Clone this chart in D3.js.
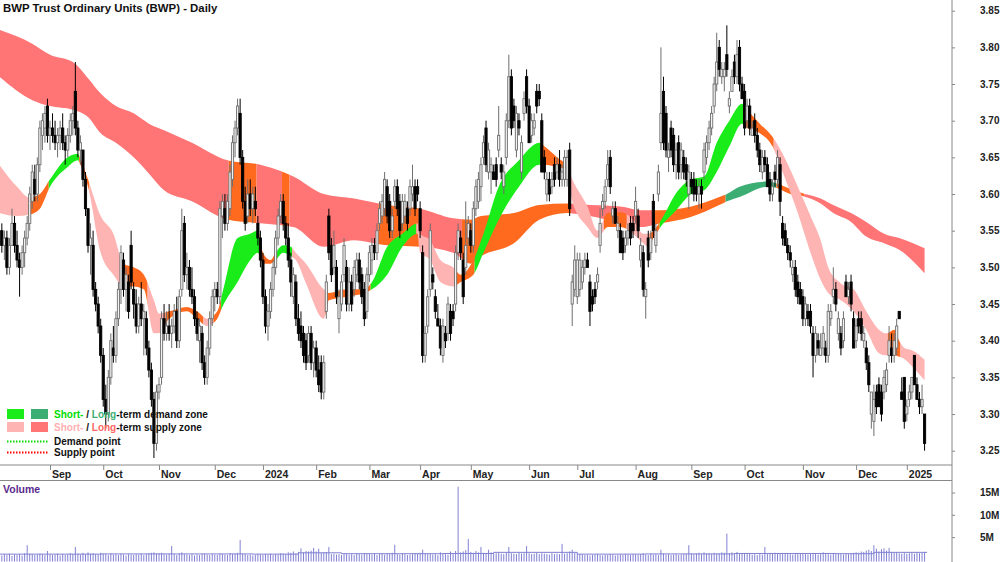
<!DOCTYPE html>
<html>
<head>
<meta charset="utf-8">
<script src="https://cdn.jsdelivr.net/npm/d3@7"></script>
<style>
  body { margin: 0; background: #fff; }
  svg { display: block; font-family: "Liberation Sans", Arial, sans-serif; }
</style>
</head>
<body>
<svg width="1000" height="562"></svg>
<script>
// daily bars, 4 Aug 2023 .. 13 Jan 2025 (trading days)
var opens = [3.53,3.55,3.53,3.54,3.50,3.53,3.56,3.53,3.51,3.50,3.52,3.54,3.56,3.59,3.62,3.60,3.64,3.68,3.69,3.72,
  3.68,3.69,3.68,3.67,3.68,3.69,3.67,3.66,3.68,3.70,3.74,3.69,3.66,3.66,3.62,3.58,3.53,3.53,3.47,3.45,3.42,
  3.38,3.32,3.30,3.35,3.39,3.38,3.43,3.47,3.51,3.47,3.48,3.53,3.47,3.45,3.42,3.45,3.43,3.43,3.39,3.36,3.32,3.26,
  3.33,3.35,3.43,3.41,3.42,3.41,3.42,3.44,3.40,3.47,3.56,3.49,3.50,3.47,3.46,3.43,3.40,3.41,3.37,3.35,3.39,3.43,
  3.46,3.47,3.46,3.57,3.58,3.56,3.58,3.62,3.67,3.69,3.71,3.65,3.59,3.57,3.60,3.58,3.59,3.56,3.54,
  3.51,3.46,3.42,3.44,3.47,3.50,3.54,3.57,3.59,3.56,3.54,3.51,3.46,3.48,3.43,3.42,3.41,3.40,3.38,3.41,3.37,
  3.39,3.36,3.37,3.33,3.44,3.57,3.53,3.50,3.50,3.43,3.45,3.49,3.50,3.45,3.48,3.47,3.49,3.51,3.49,3.47,3.44,
  3.49,3.51,3.53,3.52,3.56,3.57,3.58,3.61,3.59,3.55,3.59,3.61,3.59,3.56,3.57,3.58,3.58,3.60,3.61,3.61,
  3.58,3.52,3.38,3.42,3.47,3.49,3.46,3.43,3.42,3.38,3.41,3.41,3.44,3.44,3.45,3.52,3.54,3.51,3.50,3.54,
  3.55,3.53,3.58,3.59,3.61,3.65,3.69,3.63,3.63,3.63,3.64,3.66,3.64,3.61,3.65,3.70,3.76,3.72,3.66,3.70,3.63,3.71,3.76,
  3.72,3.68,3.69,3.74,3.74,3.70,3.65,3.60,3.62,3.61,3.64,3.63,3.64,3.62,3.62,3.62,3.66,3.45,3.47,
  3.46,3.47,3.48,3.50,3.51,3.48,3.46,3.47,3.48,3.53,3.58,3.59,3.62,3.65,3.57,3.58,3.55,3.55,3.54,3.53,3.54,3.56,3.56,
  3.57,3.57,3.51,3.52,3.46,3.54,3.52,3.59,3.53,3.60,3.67,3.74,3.71,3.65,3.69,3.68,3.64,3.67,3.64,3.65,3.64,3.60,
  3.62,3.62,3.61,3.60,3.61,3.63,3.65,3.67,3.69,3.72,3.75,3.80,3.76,3.76,3.79,3.72,3.74,3.78,3.76,3.80,3.75,
  3.74,3.70,3.72,3.68,3.70,3.68,3.66,3.63,3.65,3.64,3.62,3.60,3.63,3.62,3.64,3.56,3.55,3.53,3.52,3.49,3.50,3.48,3.47,
  3.46,3.43,3.44,3.44,3.41,3.38,3.40,3.38,3.39,3.39,3.38,3.43,3.46,3.47,3.41,3.41,3.40,3.48,3.46,3.48,3.43,
  3.40,3.43,3.43,3.40,3.39,3.37,3.30,3.29,3.33,3.34,3.33,3.33,3.34,3.38,3.39,3.38,3.39,3.44,3.33,3.35,
  3.30,3.32,3.33,3.38,3.34,3.32,3.31,3.30];
var highs = [3.56,3.56,3.55,3.55,3.54,3.58,3.57,3.55,3.52,3.53,3.55,3.57,3.61,3.64,3.64,3.65,3.70,3.71,3.72,3.73,
  3.70,3.71,3.70,3.69,3.70,3.71,3.68,3.69,3.71,3.72,3.78,3.70,3.68,3.66,3.63,3.58,3.56,3.55,3.48,3.46,3.43,
  3.39,3.34,3.36,3.41,3.42,3.44,3.48,3.53,3.52,3.50,3.49,3.55,3.48,3.47,3.46,3.48,3.45,3.44,3.40,3.37,3.33,3.34,
  3.35,3.44,3.45,3.44,3.45,3.43,3.45,3.46,3.47,3.58,3.57,3.52,3.51,3.50,3.47,3.44,3.43,3.42,3.38,3.40,3.44,3.47,
  3.48,3.48,3.59,3.60,3.60,3.60,3.64,3.68,3.70,3.73,3.73,3.66,3.61,3.62,3.62,3.61,3.61,3.57,3.55,
  3.52,3.47,3.45,3.48,3.51,3.55,3.58,3.60,3.60,3.57,3.56,3.52,3.50,3.49,3.45,3.44,3.42,3.41,3.42,3.42,3.40,
  3.40,3.38,3.38,3.38,3.49,3.58,3.54,3.55,3.51,3.47,3.49,3.54,3.51,3.50,3.49,3.51,3.52,3.52,3.50,3.48,3.50,
  3.53,3.54,3.54,3.56,3.59,3.60,3.63,3.62,3.60,3.58,3.62,3.62,3.60,3.60,3.60,3.59,3.62,3.64,3.62,3.62,
  3.59,3.53,3.42,3.47,3.56,3.50,3.47,3.45,3.43,3.43,3.42,3.46,3.45,3.45,3.53,3.56,3.55,3.52,3.59,3.57,
  3.56,3.59,3.62,3.63,3.65,3.68,3.70,3.67,3.65,3.64,3.65,3.72,3.65,3.64,3.71,3.79,3.77,3.73,3.72,3.71,3.68,3.74,3.77,
  3.73,3.71,3.71,3.75,3.75,3.71,3.66,3.63,3.63,3.63,3.65,3.65,3.66,3.64,3.66,3.66,3.67,3.49,3.53,
  3.52,3.52,3.51,3.52,3.52,3.49,3.47,3.48,3.50,3.58,3.60,3.62,3.66,3.66,3.59,3.59,3.57,3.56,3.55,3.55,3.56,3.57,3.57,
  3.61,3.58,3.54,3.53,3.48,3.55,3.55,3.60,3.56,3.64,3.80,3.76,3.72,3.67,3.70,3.69,3.67,3.68,3.67,3.66,3.65,3.64,
  3.63,3.63,3.62,3.62,3.62,3.67,3.68,3.70,3.72,3.76,3.82,3.81,3.78,3.78,3.83,3.74,3.77,3.79,3.81,3.81,3.76,
  3.75,3.73,3.73,3.70,3.71,3.69,3.67,3.66,3.66,3.65,3.63,3.62,3.64,3.66,3.65,3.57,3.56,3.54,3.53,3.51,3.51,3.49,3.48,
  3.47,3.46,3.45,3.45,3.42,3.42,3.41,3.41,3.42,3.40,3.45,3.45,3.50,3.48,3.44,3.42,3.44,3.49,3.48,3.49,3.44,
  3.43,3.44,3.44,3.42,3.40,3.38,3.33,3.34,3.34,3.35,3.34,3.36,3.37,3.42,3.41,3.41,3.43,3.44,3.35,3.35,
  3.32,3.34,3.35,3.38,3.35,3.33,3.34,3.30];
var lows = [3.52,3.52,3.51,3.49,3.49,3.53,3.52,3.50,3.46,3.49,3.50,3.53,3.55,3.58,3.59,3.59,3.63,3.66,3.67,3.67,
  3.66,3.67,3.66,3.65,3.66,3.66,3.64,3.65,3.67,3.68,3.68,3.65,3.64,3.61,3.57,3.52,3.49,3.46,3.44,3.41,3.37,
  3.31,3.28,3.29,3.34,3.37,3.37,3.42,3.45,3.46,3.44,3.43,3.47,3.43,3.41,3.41,3.42,3.38,3.38,3.35,3.31,3.24,3.25,
  3.32,3.34,3.40,3.40,3.40,3.39,3.41,3.39,3.39,3.46,3.48,3.47,3.46,3.45,3.42,3.40,3.37,3.36,3.34,3.34,3.38,3.42,
  3.44,3.45,3.45,3.54,3.55,3.55,3.57,3.61,3.65,3.68,3.64,3.58,3.55,3.56,3.57,3.56,3.57,3.53,3.50,
  3.45,3.41,3.40,3.43,3.46,3.49,3.53,3.56,3.55,3.53,3.50,3.46,3.45,3.42,3.40,3.39,3.37,3.36,3.37,3.36,3.35,
  3.35,3.33,3.32,3.32,3.43,3.51,3.48,3.49,3.45,3.41,3.44,3.48,3.44,3.44,3.44,3.46,3.48,3.47,3.45,3.42,3.43,
  3.48,3.49,3.51,3.51,3.55,3.56,3.57,3.56,3.54,3.54,3.58,3.57,3.54,3.55,3.56,3.55,3.57,3.59,3.57,3.59,
  3.54,3.37,3.37,3.41,3.46,3.47,3.43,3.42,3.38,3.37,3.39,3.40,3.40,3.42,3.44,3.51,3.51,3.45,3.49,3.53,
  3.52,3.52,3.57,3.58,3.59,3.64,3.63,3.62,3.60,3.62,3.61,3.65,3.62,3.60,3.64,3.69,3.68,3.69,3.65,3.68,3.62,3.70,3.71,
  3.67,3.67,3.68,3.71,3.72,3.63,3.62,3.59,3.59,3.60,3.61,3.62,3.61,3.61,3.61,3.61,3.57,3.42,3.46,
  3.45,3.46,3.47,3.49,3.50,3.42,3.44,3.45,3.47,3.52,3.57,3.58,3.61,3.60,3.56,3.56,3.54,3.52,3.51,3.52,3.53,3.53,3.54,
  3.56,3.54,3.50,3.46,3.43,3.50,3.51,3.54,3.52,3.59,3.66,3.66,3.65,3.63,3.65,3.63,3.62,3.62,3.62,3.62,3.61,3.58,
  3.60,3.59,3.59,3.58,3.58,3.62,3.64,3.66,3.68,3.71,3.74,3.76,3.75,3.74,3.76,3.71,3.74,3.75,3.75,3.74,3.73,
  3.68,3.69,3.68,3.68,3.67,3.65,3.63,3.62,3.63,3.61,3.59,3.59,3.61,3.61,3.57,3.53,3.53,3.51,3.50,3.48,3.46,3.45,3.45,
  3.42,3.42,3.42,3.41,3.35,3.37,3.38,3.38,3.38,3.37,3.37,3.42,3.45,3.44,3.40,3.38,3.39,3.46,3.45,3.44,3.39,
  3.39,3.41,3.40,3.39,3.36,3.33,3.28,3.27,3.30,3.31,3.29,3.32,3.33,3.37,3.37,3.37,3.38,3.43,3.32,3.28,
  3.29,3.31,3.32,3.34,3.32,3.30,3.30,3.25];
var closes = [3.55,3.53,3.54,3.50,3.53,3.56,3.53,3.51,3.50,3.52,3.54,3.56,3.60,3.63,3.60,3.64,3.69,3.70,3.71,3.68,
  3.69,3.68,3.67,3.68,3.69,3.67,3.66,3.68,3.70,3.71,3.69,3.66,3.67,3.62,3.58,3.53,3.54,3.47,3.45,3.42,3.38,
  3.32,3.30,3.35,3.40,3.38,3.43,3.47,3.52,3.47,3.49,3.44,3.48,3.45,3.42,3.45,3.43,3.44,3.39,3.36,3.32,3.26,3.33,
  3.34,3.43,3.41,3.42,3.41,3.42,3.44,3.40,3.46,3.55,3.49,3.50,3.47,3.46,3.43,3.41,3.42,3.37,3.35,3.39,3.43,3.46,
  3.47,3.46,3.58,3.59,3.56,3.59,3.63,3.67,3.69,3.72,3.65,3.59,3.56,3.60,3.58,3.60,3.58,3.54,3.51,
  3.46,3.42,3.44,3.47,3.50,3.54,3.57,3.59,3.56,3.54,3.51,3.48,3.49,3.43,3.41,3.40,3.38,3.37,3.41,3.37,3.39,
  3.36,3.34,3.33,3.37,3.48,3.52,3.49,3.53,3.46,3.46,3.48,3.53,3.45,3.48,3.45,3.50,3.51,3.48,3.46,3.43,3.49,
  3.52,3.53,3.52,3.55,3.58,3.59,3.62,3.57,3.55,3.57,3.61,3.58,3.55,3.59,3.59,3.56,3.61,3.61,3.58,3.60,
  3.55,3.38,3.41,3.46,3.55,3.48,3.44,3.42,3.39,3.42,3.40,3.45,3.41,3.43,3.52,3.55,3.52,3.46,3.53,3.56,
  3.53,3.58,3.61,3.62,3.64,3.67,3.64,3.66,3.64,3.62,3.62,3.68,3.63,3.63,3.70,3.76,3.69,3.70,3.71,3.69,3.67,3.73,3.72,
  3.67,3.70,3.70,3.72,3.73,3.63,3.63,3.62,3.60,3.62,3.62,3.64,3.62,3.63,3.65,3.65,3.58,3.48,3.51,
  3.51,3.51,3.50,3.51,3.50,3.44,3.45,3.46,3.49,3.56,3.59,3.61,3.64,3.61,3.58,3.56,3.56,3.52,3.52,3.54,3.55,3.54,3.55,
  3.59,3.55,3.53,3.47,3.47,3.51,3.54,3.55,3.55,3.63,3.71,3.67,3.66,3.66,3.66,3.64,3.66,3.63,3.66,3.63,3.62,3.63,
  3.61,3.60,3.60,3.61,3.60,3.66,3.67,3.69,3.71,3.75,3.78,3.77,3.77,3.77,3.77,3.73,3.76,3.76,3.79,3.75,3.73,
  3.69,3.72,3.69,3.69,3.68,3.66,3.64,3.65,3.64,3.61,3.60,3.61,3.62,3.65,3.59,3.54,3.53,3.52,3.51,3.50,3.47,3.46,3.45,
  3.43,3.45,3.43,3.42,3.38,3.41,3.39,3.39,3.41,3.38,3.44,3.44,3.47,3.45,3.43,3.39,3.43,3.46,3.47,3.45,3.39,
  3.42,3.42,3.41,3.41,3.37,3.34,3.33,3.32,3.31,3.31,3.30,3.35,3.36,3.40,3.38,3.40,3.42,3.43,3.32,3.29,
  3.31,3.33,3.35,3.34,3.32,3.31,3.32,3.26];
// volume, millions
var volumes = [1.1,0.9,1.2,1.0,1.3,0.8,1.1,1.0,1.2,0.9,1.4,3.2,1.3,1.2,1.0,1.1,1.3,1.2,1.0,1.9,
  1.2,1.0,1.1,1.3,0.9,1.2,1.0,1.1,1.4,1.2,2.8,1.3,1.1,1.5,1.2,1.6,1.3,1.4,1.2,1.1,1.5,
  1.3,1.2,1.0,1.4,1.1,1.2,1.0,1.3,1.1,0.9,1.2,1.1,1.0,1.2,1.1,1.3,1.0,1.2,1.4,1.5,1.6,1.3,
  1.4,1.5,1.2,1.1,1.3,3.0,1.2,1.0,1.3,1.6,1.2,1.1,1.0,1.2,0.9,1.1,1.0,1.2,1.3,1.1,1.0,1.2,
  1.1,1.0,1.3,1.2,1.1,1.0,1.4,1.2,1.3,1.5,4.4,1.3,1.2,1.0,1.1,0.9,1.0,1.2,1.1,
  1.0,1.2,1.1,1.3,1.0,1.2,1.1,1.4,1.3,1.2,1.6,1.5,1.8,1.4,1.7,2.5,1.6,1.9,1.8,2.0,2.6,
  1.8,2.4,1.5,1.6,1.7,2.8,1.2,1.3,1.1,1.2,1.0,1.3,1.2,1.1,1.2,1.0,1.3,1.2,1.1,1.4,1.2,
  1.2,1.1,1.3,1.0,1.2,1.4,1.1,1.3,1.2,1.5,3.3,1.2,1.1,1.3,1.2,1.0,1.1,1.2,1.4,1.3,
  1.5,2.2,1.4,1.2,1.3,1.1,1.2,1.0,1.6,1.3,1.2,1.1,1.8,1.4,1.9,16.3,1.6,1.8,2.1,4.6,
  1.7,1.5,1.9,1.6,2.8,1.5,1.4,2.2,1.6,1.3,1.4,1.5,1.3,1.2,1.6,2.8,1.4,1.3,1.2,1.5,1.3,1.4,3.0,
  1.4,1.2,1.3,1.5,1.2,1.4,1.3,1.2,1.1,1.4,1.2,1.3,1.2,3.5,1.3,1.4,1.8,2.2,1.5,
  1.3,1.2,1.1,1.0,1.1,0.9,1.0,1.1,1.2,1.0,0.9,1.1,1.0,1.2,1.1,0.9,1.0,1.1,1.0,1.2,1.1,1.0,1.2,
  1.1,1.0,1.2,1.4,1.1,1.0,1.3,1.1,1.2,1.0,2.2,1.3,1.1,1.2,1.0,1.1,1.2,1.0,1.1,1.2,1.3,3.2,
  1.4,1.2,1.3,1.5,1.2,1.6,1.3,1.4,1.2,1.5,1.3,1.4,1.6,1.5,5.8,1.4,1.6,1.3,1.7,1.2,1.4,
  1.3,1.2,1.4,1.1,1.2,1.0,1.3,1.1,2.8,1.2,1.4,1.3,1.5,1.4,1.3,1.2,1.4,1.3,1.2,1.1,1.3,1.2,1.4,
  1.3,1.2,1.1,1.4,1.2,1.3,1.1,1.2,1.6,1.3,1.2,1.1,1.3,1.2,1.4,1.2,1.1,1.3,1.2,1.4,1.5,
  1.6,1.5,1.8,1.7,2.0,2.2,1.9,3.2,2.4,1.8,2.3,2.5,2.0,2.6,1.7,1.5,1.6,1.4,1.3,1.5,
  1.3,1.4,1.5,1.3,1.6,1.4,1.5,1.7];
// volume average line levels (from bar, millions)
var volAvgIdx = [0,40,100,118,135,175,195,228,255,290,330,345,366];
var volAvgVal = [1.2,1.25,1.2,1.5,1.3,1.35,1.6,1.2,1.25,1.35,1.3,1.6,1.6];

// month ticks: bar index of first trading day
var monthIdx = [20,41,63,85,104,125,146,166,186,209,228,251,273,294,317,338,358];
var monthLabels = ["Sep","Oct","Nov","Dec","2024","Feb","Mar","Apr","May","Jun","Jul","Aug","Sep","Oct","Nov","Dec","2025"];
var priceTicks = [3.25,3.30,3.35,3.40,3.45,3.50,3.55,3.60,3.65,3.70,3.75,3.80,3.85];
var volTicks = [5,10,15];

// long-term zone edges at key bars
var ltIdx = [0,13,20,29,35,40,46,53,59,65,76,90,103,116,128,140,153,166,179,186,190,203,213,224,233,245,253,261,273,284,287,292,303,307,312,316,324,329,336,342,349,355,365];
var ltHi  = [3.824,3.805,3.79,3.78,3.758,3.737,3.72,3.71,3.696,3.687,3.67,3.646,3.64,3.624,3.60,3.594,3.585,3.58,3.567,3.565,3.57,3.574,3.585,3.587,3.585,3.583,3.578,3.578,3.583,3.596,3.60,3.61,3.617,3.614,3.607,3.602,3.594,3.585,3.574,3.562,3.546,3.54,3.526];
var ltLo  = [3.76,3.728,3.72,3.715,3.705,3.683,3.67,3.65,3.628,3.605,3.59,3.565,3.56,3.555,3.528,3.537,3.53,3.528,3.52,3.505,3.515,3.533,3.565,3.574,3.57,3.56,3.555,3.56,3.569,3.585,3.59,3.596,3.61,3.608,3.60,3.598,3.587,3.574,3.562,3.542,3.533,3.524,3.492];
// short-term zone edges at key bars
var stIdx = [0,7,12,16,20,27,31,32,35,40,45,49,53,57,61,63,67,74,78,82,86,88,94,99,102,104,107,109,112,115,117,121,128,130,137,144,147,153,159,165,166,170,174,179,182,187,191,197,205,213,215,220,224,226,232,236,240,245,250,254,256,258,262,266,273,278,283,288,293,295,300,305,309,315,320,324,327,332,337,342,347,350,353,355,357,360,365];
var stHi  = [3.64,3.61,3.595,3.60,3.62,3.65,3.655,3.648,3.62,3.57,3.546,3.505,3.50,3.49,3.455,3.437,3.44,3.446,3.44,3.43,3.44,3.465,3.54,3.546,3.55,3.52,3.51,3.52,3.53,3.528,3.52,3.505,3.47,3.465,3.47,3.47,3.48,3.528,3.546,3.56,3.546,3.537,3.51,3.50,3.49,3.51,3.546,3.61,3.646,3.67,3.665,3.65,3.637,3.62,3.583,3.55,3.574,3.575,3.565,3.546,3.546,3.55,3.57,3.596,3.62,3.624,3.67,3.70,3.723,3.715,3.696,3.678,3.655,3.61,3.57,3.537,3.50,3.478,3.47,3.44,3.415,3.41,3.415,3.40,3.39,3.387,3.374];
var stLo  = [3.574,3.57,3.572,3.58,3.61,3.637,3.646,3.64,3.61,3.52,3.49,3.474,3.474,3.47,3.41,3.41,3.43,3.44,3.43,3.42,3.43,3.446,3.48,3.51,3.52,3.505,3.505,3.51,3.52,3.515,3.51,3.478,3.43,3.455,3.46,3.465,3.47,3.49,3.528,3.546,3.52,3.51,3.48,3.474,3.48,3.49,3.52,3.565,3.61,3.64,3.64,3.637,3.633,3.59,3.555,3.54,3.555,3.555,3.546,3.533,3.528,3.54,3.56,3.574,3.60,3.605,3.63,3.665,3.696,3.69,3.683,3.665,3.63,3.574,3.52,3.483,3.465,3.455,3.44,3.415,3.383,3.38,3.38,3.378,3.375,3.365,3.346];

// colour runs [from bar, to bar, zone]
var ltRuns = [[0,91,"ltS"],[91,102,"or"],[102,112,"ltS"],[112,115,"or"],[115,150,"ltS"],[150,166,"or"],[166,183,"ltS"],[183,226,"or"],[226,259,"ltS"],[259,287,"or"],[287,307,"ltD"],[307,318,"or"],[318,366,"ltS"]];
var stRuns = [[0,12,"stS"],[12,20,"or"],[20,32,"stD"],[32,36,"or"],[36,50,"stS"],[50,59,"or"],[59,66,"stS"],[66,81,"or"],[81,85,"stS"],[85,88,"or"],[88,103,"stD"],[103,110,"or"],[110,116,"stD"],[116,129,"stS"],[129,147,"or"],[147,165,"stD"],[165,180,"stS"],[180,188,"or"],[188,214,"stD"],[214,225,"or"],[225,239,"stS"],[239,248,"or"],[248,257,"stS"],[257,261,"or"],[261,294,"stD"],[294,306,"or"],[306,351,"stS"],[351,356,"or"],[356,366,"stS"]];

var zoneColor = { stD: "#19ec19", ltD: "#3cae74", stS: "#ffb4b4", ltS: "#ff7474", or: "#ff6a1f" };

var svg = d3.select("svg"),
  plotW = 952,
  plotH = 465,
  n = closes.length;

var x = d3.scaleLinear().domain([0, n - 1]).range([-0.7, -0.7 + 2.535 * (n - 1)]);
var y = d3.scaleLinear().domain([3.25, 3.85]).range([450.7, 10.7]);
var yv = d3.scaleLinear().domain([0, 15]).range([559.5, 492.5]);

var defs = svg.append("defs");
defs.append("clipPath").attr("id", "plot")
  .append("rect").attr("x", 0).attr("y", 0).attr("width", plotW).attr("height", plotH);

function runClip(id, r) {
  defs.append("clipPath").attr("id", id)
    .append("rect")
    .attr("x", x(r[0]) - 1.27)
    .attr("y", 0)
    .attr("width", x(r[1]) - x(r[0]))
    .attr("height", plotH);
}

var area = d3.area()
  .x(function (d) { return x(d.i); })
  .y0(function (d) { return y(d.lo); })
  .y1(function (d) { return y(d.hi); })
  .curve(d3.curveMonotoneX);

var ltPts = ltIdx.map(function (v, k) { return { i: v, hi: ltHi[k], lo: ltLo[k] }; });
var stPts = stIdx.map(function (v, k) { return { i: v, hi: stHi[k], lo: stLo[k] }; });

var g = svg.append("g").attr("clip-path", "url(#plot)");

ltRuns.forEach(function (r, k) {
  runClip("lt" + k, r);
  g.append("path").attr("d", area(ltPts)).attr("fill", zoneColor[r[2]]).attr("clip-path", "url(#lt" + k + ")");
});
stRuns.forEach(function (r, k) {
  runClip("st" + k, r);
  g.append("path").attr("d", area(stPts)).attr("fill", zoneColor[r[2]]).attr("clip-path", "url(#st" + k + ")");
});

// candles
function up(i) { return closes[i] >= opens[i]; }
var bars = g.selectAll("g.bar").data(d3.range(n)).join("g").attr("class", "bar");
bars.append("line")
  .attr("x1", function (i) { return x(i); })
  .attr("x2", function (i) { return x(i); })
  .attr("y1", function (i) { return y(highs[i]); })
  .attr("y2", function (i) { return y(lows[i]); })
  .attr("stroke", function (i) { return up(i) ? "#6e6e6e" : "#000"; })
  .attr("stroke-width", 1);
bars.append("rect")
  .attr("x", function (i) { return x(i) - 1.1; })
  .attr("width", 2.2)
  .attr("y", function (i) { return y(Math.max(opens[i], closes[i])); })
  .attr("height", function (i) { return Math.max(1, Math.abs(y(opens[i]) - y(closes[i]))); })
  .attr("fill", function (i) { return up(i) ? "#f2f2f2" : "#000"; })
  .attr("stroke", function (i) { return up(i) ? "#6e6e6e" : "#000"; })
  .attr("stroke-width", 0.9);

// frame lines
svg.append("line").attr("x1", 0).attr("x2", plotW).attr("y1", plotH).attr("y2", plotH).attr("stroke", "#888");
svg.append("line").attr("x1", 0).attr("x2", plotW).attr("y1", 480.5).attr("y2", 480.5).attr("stroke", "#888");
svg.append("line").attr("x1", plotW).attr("x2", plotW).attr("y1", 0).attr("y2", 562).attr("stroke", "#888");

// month axis
var xa = svg.append("g").attr("transform", "translate(0," + plotH + ")")
  .call(d3.axisBottom(x).tickValues(monthIdx).tickSize(5).tickFormat(function (d, k) { return monthLabels[k]; }));
xa.select(".domain").remove();
xa.selectAll("line").attr("stroke", "#888");
xa.selectAll("text").attr("text-anchor", "start").attr("x", 1.5).attr("y", 6).attr("dy", "0.71em")
  .attr("font-size", 10.5).attr("font-weight", "bold").attr("fill", "#222");

// price axis
var ya = svg.append("g").attr("transform", "translate(" + plotW + ",0)")
  .call(d3.axisRight(y).tickValues(priceTicks).tickSize(3).tickPadding(25).tickFormat(d3.format(".2f")));
ya.select(".domain").remove();
ya.selectAll("line").attr("stroke", "#888");
ya.selectAll("text").attr("font-size", 10).attr("font-weight", "bold").attr("fill", "#222");

// volume
var gv = svg.append("g");
gv.selectAll("line").data(d3.range(n)).join("line")
  .attr("x1", function (i) { return x(i); })
  .attr("x2", function (i) { return x(i); })
  .attr("y1", yv(0) + 2)
  .attr("y2", function (i) { return yv(volumes[i]); })
  .attr("stroke", "#8080d4")
  .attr("stroke-width", 1);
gv.append("path")
  .attr("d", d3.line()
    .x(function (d, k) { return x(volAvgIdx[k]); })
    .y(function (d) { return yv(d); })
    .curve(d3.curveStepAfter)(volAvgVal))
  .attr("fill", "none").attr("stroke", "#8080d4").attr("stroke-width", 1);

var va = svg.append("g").attr("transform", "translate(" + plotW + ",0)")
  .call(d3.axisRight(yv).tickValues(volTicks).tickSize(3).tickPadding(25).tickFormat(function (d) { return d + "M"; }));
va.select(".domain").remove();
va.selectAll("line").attr("stroke", "#888");
va.selectAll("text").attr("font-size", 10).attr("font-weight", "bold").attr("fill", "#222");

svg.append("text").attr("x", 3).attr("y", 493).attr("font-size", 10.5).attr("font-weight", "bold")
  .attr("fill", "#5a2a8c").text("Volume");

// title
svg.append("text").attr("x", 3).attr("y", 12).attr("font-size", 11.4).attr("font-weight", "bold")
  .attr("fill", "#111").text("BWP Trust Ordinary Units (BWP) - Daily");

// legend
var lg = svg.append("g").attr("font-size", 10).attr("font-weight", "bold");
lg.append("rect").attr("x", 7).attr("y", 409).attr("width", 17).attr("height", 10).attr("fill", zoneColor.stD);
lg.append("rect").attr("x", 31).attr("y", 409).attr("width", 17).attr("height", 10).attr("fill", zoneColor.ltD);
lg.append("rect").attr("x", 7).attr("y", 422).attr("width", 17).attr("height", 10).attr("fill", zoneColor.stS);
lg.append("rect").attr("x", 31).attr("y", 422).attr("width", 17).attr("height", 10).attr("fill", zoneColor.ltS);
lg.append("line").attr("x1", 7).attr("x2", 48).attr("y1", 441.5).attr("y2", 441.5)
  .attr("stroke", "#00dd00").attr("stroke-width", 2).attr("stroke-dasharray", "1.5,1.5");
lg.append("line").attr("x1", 7).attr("x2", 48).attr("y1", 452.5).attr("y2", 452.5)
  .attr("stroke", "#ff0000").attr("stroke-width", 2).attr("stroke-dasharray", "1.5,1.5");

var t1 = lg.append("text").attr("x", 54).attr("y", 418);
t1.append("tspan").attr("fill", "#00dd00").text("Short-");
t1.append("tspan").attr("fill", "#111").text(" / ");
t1.append("tspan").attr("fill", "#3cae74").text("Long");
t1.append("tspan").attr("fill", "#111").text("-term demand zone");
var t2 = lg.append("text").attr("x", 54).attr("y", 431);
t2.append("tspan").attr("fill", "#ffb0b0").text("Short-");
t2.append("tspan").attr("fill", "#111").text(" / ");
t2.append("tspan").attr("fill", "#ff6464").text("Long");
t2.append("tspan").attr("fill", "#111").text("-term supply zone");
lg.append("text").attr("x", 54).attr("y", 445).attr("fill", "#111").text("Demand point");
lg.append("text").attr("x", 54).attr("y", 456).attr("fill", "#111").text("Supply point");
</script>
</body>
</html>
